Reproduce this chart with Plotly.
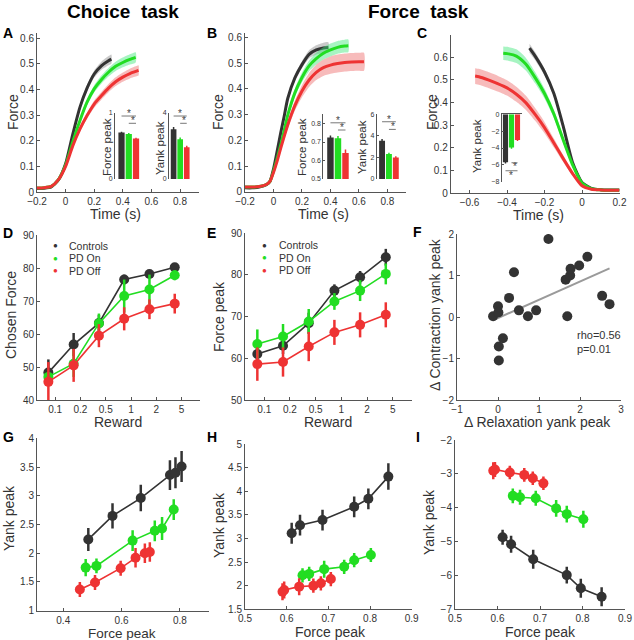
import numpy as np
import plotly.graph_objects as go

W, H = 634, 640
FONT = "Liberation Sans, Arial, Helvetica, sans-serif"
C_CTRL, C_ON, C_OFF = "#333333", "#22dd22", "#ee3333"
B_CTRL, B_ON, B_OFF = "rgba(150,150,150,0.5)", "rgba(60,230,120,0.45)", "rgba(240,120,120,0.5)"
AXC, TXT = "#555555", "#333333"

groups = ["Controls", "PD On", "PD Off"]

# ---------------- Panel A (choice task, contraction) ----------------
A_t_ctrl = [-0.2, -0.15, -0.1, -0.05, 0, 0.05, 0.1, 0.15, 0.2, 0.25, 0.3, 0.32]
A_f_ctrl = [0.014, 0.015, 0.02, 0.047, 0.11, 0.225, 0.33, 0.405, 0.46, 0.492, 0.512, 0.518]
A_e_ctrl = [0.002, 0.002, 0.002, 0.003, 0.005, 0.008, 0.01, 0.012, 0.014, 0.016, 0.018, 0.018]
A_t_on = [-0.2, -0.15, -0.1, -0.05, 0, 0.05, 0.1, 0.15, 0.2, 0.25, 0.3, 0.35, 0.4, 0.45, 0.49]
A_f_on = [0.016, 0.017, 0.022, 0.048, 0.105, 0.195, 0.278, 0.35, 0.402, 0.438, 0.467, 0.49, 0.505, 0.517, 0.525]
A_e_on = [0.002, 0.002, 0.002, 0.003, 0.005, 0.008, 0.01, 0.012, 0.014, 0.016, 0.017, 0.018, 0.019, 0.02, 0.02]
A_t_off = [-0.2, -0.15, -0.1, -0.05, 0, 0.05, 0.1, 0.15, 0.2, 0.25, 0.3, 0.35, 0.4, 0.45, 0.5, 0.51]
A_f_off = [0.016, 0.017, 0.022, 0.048, 0.1, 0.18, 0.245, 0.298, 0.343, 0.375, 0.405, 0.43, 0.448, 0.462, 0.472, 0.474]
A_e_off = [0.002, 0.002, 0.002, 0.003, 0.005, 0.008, 0.01, 0.012, 0.014, 0.015, 0.016, 0.017, 0.018, 0.019, 0.02, 0.02]

# ---------------- Panel B (force task, contraction) ----------------
B_t_ctrl = [-0.2, -0.15, -0.1, -0.05, -0.025, 0, 0.025, 0.05, 0.075, 0.1, 0.15, 0.2, 0.25, 0.3, 0.35, 0.385]
B_f_ctrl = [0.015, 0.015, 0.018, 0.027, 0.04, 0.088, 0.156, 0.227, 0.294, 0.363, 0.443, 0.495, 0.535, 0.552, 0.56, 0.562]
B_e_ctrl = [0.002, 0.002, 0.002, 0.003, 0.004, 0.005, 0.006, 0.008, 0.009, 0.01, 0.012, 0.014, 0.016, 0.018, 0.02, 0.02]
B_t_on = [-0.2, -0.15, -0.1, -0.05, -0.025, 0, 0.025, 0.05, 0.075, 0.1, 0.15, 0.2, 0.25, 0.3, 0.35, 0.4, 0.45, 0.5, 0.525]
B_f_on = [0.018, 0.018, 0.02, 0.028, 0.04, 0.08, 0.128, 0.18, 0.238, 0.298, 0.385, 0.445, 0.49, 0.518, 0.539, 0.552, 0.562, 0.567, 0.568]
B_e_on = [0.002, 0.002, 0.002, 0.003, 0.004, 0.005, 0.007, 0.009, 0.011, 0.013, 0.016, 0.019, 0.021, 0.023, 0.024, 0.025, 0.025, 0.025, 0.025]
B_t_off = [-0.2, -0.15, -0.1, -0.05, -0.025, 0, 0.025, 0.05, 0.1, 0.15, 0.2, 0.25, 0.3, 0.35, 0.4, 0.45, 0.5, 0.55, 0.6, 0.635]
B_f_off = [0.018, 0.018, 0.02, 0.028, 0.04, 0.075, 0.118, 0.168, 0.26, 0.335, 0.392, 0.435, 0.465, 0.483, 0.493, 0.499, 0.503, 0.505, 0.506, 0.506]
B_e_off = [0.002, 0.002, 0.002, 0.003, 0.004, 0.006, 0.008, 0.01, 0.015, 0.02, 0.024, 0.027, 0.03, 0.032, 0.034, 0.035, 0.035, 0.035, 0.035, 0.035]

# ---------------- Panel C (force task, relaxation) ----------------
C_t_ctrl = [-0.28, -0.25, -0.2, -0.15, -0.1, -0.05, 0, 0.05, 0.1, 0.15, 0.2]
C_f_ctrl = [0.64, 0.605, 0.535, 0.44, 0.295, 0.135, 0.048, 0.022, 0.016, 0.015, 0.015]
C_e_ctrl = [0.02, 0.018, 0.015, 0.012, 0.01, 0.007, 0.004, 0.002, 0.002, 0.002, 0.002]
C_t_on = [-0.42, -0.4, -0.35, -0.3, -0.25, -0.2, -0.15, -0.1, -0.05, 0, 0.05, 0.1, 0.15, 0.2]
C_f_on = [0.618, 0.616, 0.605, 0.57, 0.51, 0.44, 0.35, 0.235, 0.125, 0.045, 0.02, 0.015, 0.014, 0.014]
C_e_on = [0.03, 0.03, 0.03, 0.028, 0.025, 0.022, 0.018, 0.014, 0.009, 0.005, 0.003, 0.002, 0.002, 0.002]
C_t_off = [-0.57, -0.55, -0.5, -0.45, -0.4, -0.35, -0.3, -0.25, -0.2, -0.15, -0.1, -0.05, 0, 0.05, 0.1, 0.15, 0.2]
C_f_off = [0.517, 0.514, 0.5, 0.484, 0.465, 0.437, 0.4, 0.348, 0.29, 0.222, 0.153, 0.087, 0.033, 0.018, 0.015, 0.014, 0.014]
C_e_off = [0.035, 0.035, 0.035, 0.035, 0.034, 0.033, 0.031, 0.028, 0.025, 0.02, 0.015, 0.01, 0.005, 0.003, 0.002, 0.002, 0.002]

# ---------------- Insets ----------------
insA_force = [0.70, 0.68, 0.61]; insA_force_err = [0.012, 0.012, 0.012]
insA_yank = [3.0, 2.4, 1.91]; insA_yank_err = [0.13, 0.1, 0.1]
insB_force = [0.725, 0.72, 0.64]; insB_force_err = [0.01, 0.012, 0.02]
insB_yank = [3.55, 2.31, 2.0]; insB_yank_err = [0.15, 0.12, 0.12]
insC_yank = [-5.7, -3.95, -3.05]; insC_yank_err = [0.15, 0.15, 0.12]

# ---------------- Panels D, E ----------------
rewards = ["0.1", "0.2", "0.5", "1", "2", "5"]
D_ctrl = [48.3, 56.8, 63.3, 76.5, 78.2, 80.2]; D_ctrl_err = [4, 3.5, 2.5, 1.5, 1.2, 1.2]
D_on = [47.0, 51.0, 63.2, 71.5, 73.5, 77.8]; D_on_err = [1.5, 4, 3, 5, 4.5, 1.5]
D_off = [45.5, 50.5, 59.5, 64.6, 67.5, 69.2]; D_off_err = [6, 5, 3.5, 3.5, 3, 3]
E_ctrl = [61.0, 63.0, 68.4, 76.2, 79.4, 84.2]; E_ctrl_err = [1.5, 2, 2.5, 1.5, 1.5, 2]
E_on = [63.4, 65.2, 68.8, 73.6, 76.2, 80.2]; E_on_err = [3.5, 3, 3, 2, 2.5, 2.5]
E_off = [58.6, 59.1, 62.8, 66.2, 68.0, 70.4]; E_off_err = [4, 3.5, 3.5, 3, 3, 3]

# ---------------- Panel F ----------------
F_relax = [-0.12, 0.0, 0.01, 0.27, 0.39, 0.51, 0.73, 0.93, 1.23, 0.02, 0.12, 0.02,
           1.65, 1.76, 1.77, 1.98, 2.18, 1.69, 2.54, 2.72]
F_contr = [0.02, 0.26, 0.11, 0.46, 1.08, 0.16, 0.02, 0.16, 1.88, -0.71, -0.51, -1.05,
           0.9, 1.0, 1.16, 1.24, 1.45, 0.02, 0.51, 0.31]

# ---------------- Panels G, H, I ----------------
G_fx_ctrl = [0.486, 0.569, 0.666, 0.766, 0.785, 0.806]; G_y_ctrl = [2.24, 2.65, 2.96, 3.36, 3.40, 3.51]
G_fx_on = [0.477, 0.514, 0.638, 0.714, 0.739, 0.779]; G_y_on = [1.75, 1.78, 2.22, 2.39, 2.43, 2.76]
G_fx_off = [0.457, 0.509, 0.597, 0.648, 0.680, 0.697]; G_y_off = [1.37, 1.49, 1.74, 1.92, 2.0, 2.02]
G_err_ctrl = [0.2, 0.22, 0.23, 0.26, 0.27, 0.27]; G_err_on = [0.15, 0.13, 0.18, 0.18, 0.2, 0.18]; G_err_off = [0.13, 0.13, 0.13, 0.17, 0.17, 0.17]

H_fx_ctrl = [0.612, 0.632, 0.686, 0.762, 0.796, 0.844]; H_y_ctrl = [3.11, 3.28, 3.39, 3.67, 3.84, 4.31]
H_fx_on = [0.638, 0.654, 0.690, 0.738, 0.762, 0.802]; H_y_on = [2.22, 2.25, 2.35, 2.40, 2.54, 2.65]
H_fx_off = [0.590, 0.594, 0.630, 0.664, 0.682, 0.706]; H_y_off = [1.87, 1.91, 1.98, 2.0, 2.05, 2.14]
H_err_ctrl = [0.22, 0.22, 0.22, 0.22, 0.22, 0.28]; H_err_on = [0.15, 0.15, 0.18, 0.15, 0.15, 0.15]; H_err_off = [0.18, 0.18, 0.18, 0.15, 0.15, 0.15]

I_fx_ctrl = [0.612, 0.632, 0.684, 0.763, 0.796, 0.845]; I_y_ctrl = [-4.87, -5.08, -5.52, -5.99, -6.38, -6.63]
I_fx_on = [0.636, 0.653, 0.690, 0.738, 0.763, 0.802]; I_y_on = [-3.65, -3.69, -3.72, -4.02, -4.19, -4.34]
I_fx_off = [0.590, 0.594, 0.629, 0.663, 0.683, 0.708]; I_y_off = [-2.91, -2.87, -2.96, -3.03, -3.13, -3.28]
I_err_ctrl = [0.22, 0.25, 0.28, 0.25, 0.28, 0.28]; I_err_on = [0.22, 0.22, 0.22, 0.25, 0.25, 0.25]; I_err_off = [0.25, 0.22, 0.2, 0.2, 0.2, 0.2]

# ====================================================================
fig = go.Figure()
layout = {}
annotations = []
shapes = []


def dx(p0, p1):
    return [p0 / W, p1 / W]


def dy(top, bot):
    return [1 - bot / H, 1 - top / H]


def base_axis(fs=10):
    return dict(showline=True, linecolor=AXC, linewidth=1, ticks="inside", ticklen=3,
                tickcolor=AXC, tickfont=dict(size=fs, color=TXT, family=FONT),
                showgrid=False, zeroline=False, mirror=False, fixedrange=True, automargin=False)


def make_axes(i, px0, px1, ptop, pbot, xr, yr, xkw=None, ykw=None, fs=10):
    xa = base_axis(fs); ya = base_axis(fs)
    xa.update(domain=dx(px0, px1), anchor=f"y{i}", range=xr)
    ya.update(domain=dy(ptop, pbot), anchor=f"x{i}", range=yr)
    if xkw: xa.update(xkw)
    if ykw: ya.update(ykw)
    layout["xaxis" if i == 1 else f"xaxis{i}"] = xa
    layout["yaxis" if i == 1 else f"yaxis{i}"] = ya
    return ("x" if i == 1 else f"x{i}", "y" if i == 1 else f"y{i}")


def add_curve(ax, t, f, e, col, band):
    t = list(t); f = np.array(f); e = np.array(e)
    fig.add_trace(go.Scatter(x=t + t[::-1], y=list(f + e) + list((f - e)[::-1]), fill="toself",
                             fillcolor=band, line=dict(width=0, shape="spline", smoothing=0.6),
                             mode="lines", hoverinfo="skip", showlegend=False, xaxis=ax[0], yaxis=ax[1]))
    fig.add_trace(go.Scatter(x=t, y=list(f), mode="lines", line=dict(color=col, width=3, shape="spline", smoothing=0.6),
                             showlegend=False, xaxis=ax[0], yaxis=ax[1]))


def add_bars(ax, vals, errs):
    for k, (v, e, c) in enumerate(zip(vals, errs, [C_CTRL, C_ON, C_OFF])):
        fig.add_trace(go.Bar(x=[k + 1], y=[v], width=0.86, marker=dict(color=c, line=dict(width=0)),
                             error_y=dict(type="data", array=[e], color=c, thickness=1.5, width=0),
                             showlegend=False, xaxis=ax[0], yaxis=ax[1]))


def sig(ax, x0, x1, yline, ystar, xstar):
    shapes.append(dict(type="line", xref=ax[0], yref=ax[1], x0=x0, x1=x1, y0=yline, y1=yline,
                       line=dict(color="#555", width=0.8)))
    annotations.append(dict(xref=ax[0], yref=ax[1], x=xstar, y=ystar, text="*", showarrow=False,
                            font=dict(size=10, color="#444", family=FONT), xanchor="center", yanchor="middle"))


def add_series(ax, x, y, err, col):
    fig.add_trace(go.Scatter(x=x, y=y, mode="lines+markers", line=dict(color=col, width=1.6),
                             marker=dict(size=10, color=col),
                             error_y=dict(type="data", array=err, color=col, thickness=2.5, width=0),
                             showlegend=False, xaxis=ax[0], yaxis=ax[1]))


def ann(px, py, text, size=14.5, angle=0, bold=False, color=TXT, xanchor="center"):
    if bold:
        text = f"<b>{text}</b>"
    annotations.append(dict(xref="paper", yref="paper", x=px / W, y=1 - py / H, text=text, showarrow=False,
                            textangle=angle, xanchor=xanchor, yanchor="middle",
                            font=dict(size=size, color=color, family=FONT)))


tick_time = [-0.2, 0, 0.2, 0.4, 0.6, 0.8]
tick_f = [0, 0.1, 0.2, 0.3, 0.4, 0.5, 0.6]

# ---- A ----
axA = make_axes(1, 37, 198.6, 33, 192, [-0.2, 0.93], [0, 0.62],
                xkw=dict(tickvals=tick_time), ykw=dict(tickvals=tick_f))
add_curve(axA, A_t_ctrl, A_f_ctrl, A_e_ctrl, C_CTRL, B_CTRL)
add_curve(axA, A_t_on, A_f_on, A_e_on, C_ON, B_ON)
add_curve(axA, A_t_off, A_f_off, A_e_off, C_OFF, B_OFF)
axA1 = make_axes(2, 115, 140, 112.7, 179, [0.1, 3.55], [0, 1], xkw=dict(visible=False),
                 ykw=dict(tickvals=[0, 1], ticklen=2), fs=7)
add_bars(axA1, insA_force, insA_force_err)
sig(axA1, 1, 3, 0.95, 0.99, 2.0)
sig(axA1, 2, 3, 0.84, 0.88, 2.6)
axA2 = make_axes(3, 169, 192, 112.7, 179, [0.3, 3.8], [0, 4], xkw=dict(visible=False),
                 ykw=dict(tickvals=[0, 4], ticklen=2), fs=7)
add_bars(axA2, insA_yank, insA_yank_err)
sig(axA2, 1, 3, 3.8, 3.96, 2.0)
sig(axA2, 2, 3, 3.36, 3.52, 2.6)

# ---- B ----
axB = make_axes(4, 245, 406, 32.5, 191.7, [-0.2, 0.93], [0, 0.62],
                xkw=dict(tickvals=tick_time), ykw=dict(tickvals=tick_f))
add_curve(axB, B_t_ctrl, B_f_ctrl, B_e_ctrl, C_CTRL, B_CTRL)
add_curve(axB, B_t_on, B_f_on, B_e_on, C_ON, B_ON)
add_curve(axB, B_t_off, B_f_off, B_e_off, C_OFF, B_OFF)
axB1 = make_axes(5, 323.3, 350, 114.3, 179, [0.05, 3.6], [0.5, 0.85], xkw=dict(visible=False),
                 ykw=dict(tickvals=[0.5, 0.6, 0.7, 0.8], ticklen=2), fs=7)
add_bars(axB1, insB_force, insB_force_err)
sig(axB1, 1, 3, 0.804, 0.818, 2.0)
sig(axB1, 2, 3, 0.765, 0.779, 2.6)
axB2 = make_axes(6, 376.7, 402, 114.3, 179, [0.22, 3.9], [0, 6], xkw=dict(visible=False),
                 ykw=dict(tickvals=[0, 2, 4, 6], ticklen=2), fs=7)
add_bars(axB2, insB_yank, insB_yank_err)
sig(axB2, 1, 3, 5.31, 5.55, 2.0)
sig(axB2, 2, 3, 4.6, 4.84, 2.6)

# ---- C ----
axC = make_axes(7, 450.75, 619.5, 34.6, 193.3, [-0.7, 0.2], [0, 0.7],
                xkw=dict(tickvals=[-0.6, -0.4, -0.2, 0, 0.2]), ykw=dict(tickvals=tick_f))
add_curve(axC, C_t_ctrl, C_f_ctrl, C_e_ctrl, C_CTRL, B_CTRL)
add_curve(axC, C_t_on, C_f_on, C_e_on, C_ON, B_ON)
add_curve(axC, C_t_off, C_f_off, C_e_off, C_OFF, B_OFF)
axC1 = make_axes(8, 501.7, 522, 114.3, 181.7, [0.37, 3.75], [-8, 0],
                 xkw=dict(side="top", showticklabels=False, ticks=""),
                 ykw=dict(tickvals=[0, -2, -4, -6, -8], ticklen=2), fs=7)
add_bars(axC1, insC_yank, insC_yank_err)
sig(axC1, 1, 3, -6.7, -7.25, 2.0)
sig(axC1, 2, 3, -5.75, -6.25, 2.6)

# ---- D ----
ridx = list(np.arange(1, len(rewards) + 1))
rtick = [r + 0.27 for r in ridx]
axD = make_axes(9, 37, 200, 235, 400, [0.55, 7.0], [40, 90],
                xkw=dict(tickvals=rtick, ticktext=rewards), ykw=dict(tickvals=[40, 50, 60, 70, 80, 90]))
add_series(axD, ridx, D_ctrl, D_ctrl_err, C_CTRL)
add_series(axD, ridx, D_on, D_on_err, C_ON)
add_series(axD, ridx, D_off, D_off_err, C_OFF)

# ---- E ----
axE = make_axes(10, 245, 412, 233, 400, [0.52, 7.02], [50, 90],
                xkw=dict(tickvals=rtick, ticktext=rewards), ykw=dict(tickvals=[50, 60, 70, 80, 90]))
add_series(axE, ridx, E_ctrl, E_ctrl_err, C_CTRL)
add_series(axE, ridx, E_on, E_on_err, C_ON)
add_series(axE, ridx, E_off, E_off_err, C_OFF)

# legend keys for D and E (dot + label)
for (mx, tx, y0) in ((55, 67, 245.7), (264, 276.7, 245)):
    for k, (name, col) in enumerate(zip(groups, [C_CTRL, C_ON, C_OFF])):
        yy = y0 + k * 12.5
        ann(mx, yy, "●", size=8, color=col)
        ann(tx, yy, name, size=10.5, xanchor="left")

# ---- F ----
axF = make_axes(11, 457, 621, 234, 400, [-1, 3], [-2, 2],
                xkw=dict(tickvals=[-1, 0, 1, 2, 3]), ykw=dict(tickvals=[-2, -1, 0, 1, 2]))
slope, icpt = np.polyfit(F_relax, F_contr, 1)
fxl = [min(F_relax), max(F_relax)]
fig.add_trace(go.Scatter(x=fxl, y=[slope * v + icpt for v in fxl], mode="lines",
                         line=dict(color="#9a9a9a", width=2), showlegend=False, xaxis=axF[0], yaxis=axF[1]))
fig.add_trace(go.Scatter(x=F_relax, y=F_contr, mode="markers", marker=dict(size=10, color=C_CTRL),
                         showlegend=False, xaxis=axF[0], yaxis=axF[1]))
annotations.append(dict(xref=axF[0], yref=axF[1], x=1.88, y=-0.6, text="rho=0.56<br>p=0.01", showarrow=False,
                        xanchor="left", yanchor="middle", align="left",
                        font=dict(size=11, color=TXT, family=FONT)))

# ---- G ----
axG = make_axes(12, 37, 209, 438.3, 610.7, [0.31, 0.9], [1, 4],
                xkw=dict(tickvals=[0.4, 0.6, 0.8]), ykw=dict(tickvals=[1, 1.5, 2, 2.5, 3, 3.5, 4]))
add_series(axG, G_fx_ctrl, G_y_ctrl, G_err_ctrl, C_CTRL)
add_series(axG, G_fx_on, G_y_on, G_err_on, C_ON)
add_series(axG, G_fx_off, G_y_off, G_err_off, C_OFF)

# ---- H ----
axH = make_axes(13, 245, 411.7, 444, 609.3, [0.5, 0.9], [1.5, 5],
                xkw=dict(tickvals=[0.5, 0.6, 0.7, 0.8, 0.9]), ykw=dict(tickvals=[1.5, 2, 2.5, 3, 3.5, 4, 4.5, 5]))
add_series(axH, H_fx_ctrl, H_y_ctrl, H_err_ctrl, C_CTRL)
add_series(axH, H_fx_on, H_y_on, H_err_on, C_ON)
add_series(axH, H_fx_off, H_y_off, H_err_off, C_OFF)

# ---- I ----
axI = make_axes(14, 455, 625, 440, 609.3, [0.5, 0.9], [-7, -2],
                xkw=dict(tickvals=[0.5, 0.6, 0.7, 0.8, 0.9]), ykw=dict(tickvals=[-7, -6, -5, -4, -3, -2]))
add_series(axI, I_fx_ctrl, I_y_ctrl, I_err_ctrl, C_CTRL)
add_series(axI, I_fx_on, I_y_on, I_err_on, C_ON)
add_series(axI, I_fx_off, I_y_off, I_err_off, C_OFF)

# ---- text ----
ann(123, 11, "Choice  task", size=19, bold=True, color="#000")
ann(418, 11, "Force  task", size=19, bold=True, color="#000")
for L, px, py in [("A", 8, 33), ("B", 212, 33), ("C", 422, 33), ("D", 8, 233), ("E", 212, 233),
                  ("F", 417, 232), ("G", 8, 437), ("H", 212, 437), ("I", 418, 437)]:
    ann(px, py, L, size=14, bold=True, color="#000")

for px, py, t, ang, fs in [(13, 112, "Force", -90, 14), (218, 112, "Force", -90, 14), (432, 112, "Force", -90, 14),
                           (115, 214, "Time (s)", 0, 14), (323, 214, "Time (s)", 0, 14), (538, 215.5, "Time (s)", 0, 14),
                           (11, 315, "Chosen Force", -90, 14), (118, 422, "Reward", 0, 14),
                           (219, 317, "Force peak", -90, 14), (328, 422, "Reward", 0, 14),
                           (435, 314, "Δ Contraction yank peak", -90, 14), (537, 422, "Δ Relaxation yank peak", 0, 14),
                           (9, 518, "Yank peak", -90, 14), (122, 633, "Force peak", 0, 13.5),
                           (219, 525, "Yank peak", -90, 14), (330, 632, "Force peak", 0, 14),
                           (429, 522, "Yank peak", -90, 14), (540, 632, "Force peak", 0, 14)]:
    ann(px, py, t, size=fs, angle=ang)

for px, py, t in [(107, 147, "Force peak"), (160, 148, "Yank peak"), (302, 147, "Force peak"),
                  (362, 147, "Yank peak"), (477, 146, "Yank peak")]:
    ann(px, py, t, size=11.5, angle=-90)

fig.update_layout(width=W, height=H, margin=dict(l=0, r=0, t=0, b=0, pad=0, autoexpand=False), autosize=False,
                  paper_bgcolor="white", plot_bgcolor="rgba(0,0,0,0)", barmode="overlay",
                  font=dict(family=FONT, color=TXT), annotations=annotations, shapes=shapes,
                  showlegend=False, **layout)
fig.write_html("out.html", config={"displayModeBar": False, "staticPlot": True},
               post_script="document.body.style.margin='0';document.body.style.overflow='hidden';")
